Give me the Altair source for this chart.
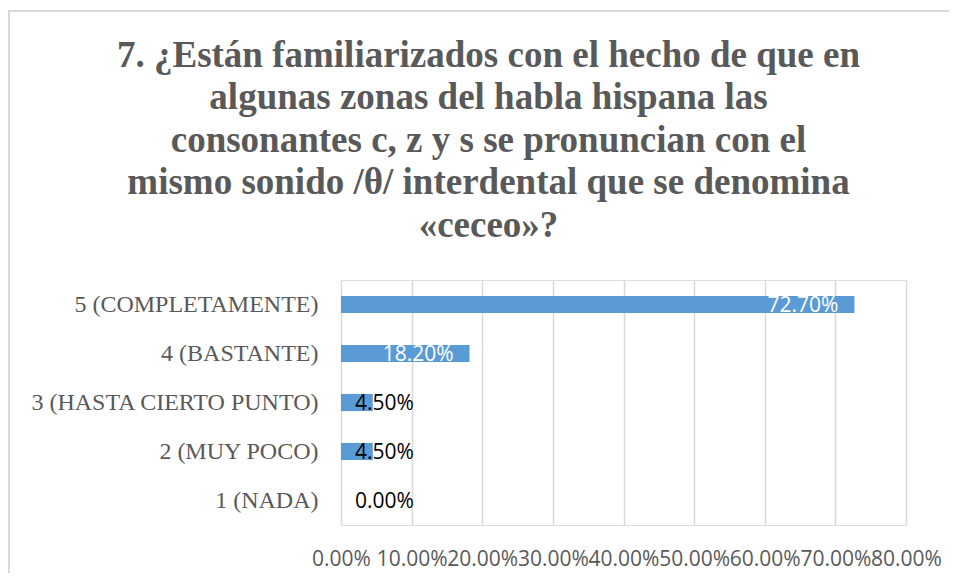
import altair as alt
import pandas as pd

categories = ["5 (COMPLETAMENTE)", "4 (BASTANTE)", "3 (HASTA CIERTO PUNTO)", "2 (MUY POCO)", "1 (NADA)"]
values = [0.727, 0.182, 0.045, 0.045, 0.0]
labels = ["72.70%", "18.20%", "4.50%", "4.50%", "0.00%"]
x_ticks = [0, 0.1, 0.2, 0.3, 0.4, 0.5, 0.6, 0.7, 0.8]

title_lines = [
    "7. ¿Están familiarizados con el hecho de que en",
    "algunas zonas del habla hispana las",
    "consonantes c, z y s se pronuncian con el",
    "mismo sonido /θ/ interdental que se denomina",
    "«ceceo»?",
]

df = pd.DataFrame({"cat": categories, "val": values, "lab": labels})
df["inside"] = df["val"] >= 0.1

W, H = 565, 245
PL, PT, PR, PB = 333, 272, 43, 48

x_enc = alt.X("val:Q", scale=alt.Scale(domain=[0, 0.8], nice=False, zero=True),
              axis=alt.Axis(values=x_ticks, format=".2%", title=None, domain=False, ticks=False,
                            grid=True, gridColor="#d9d9d9", gridWidth=1.5,
                            labelFont="Open Sans", labelFontSize=21, labelColor="#595959",
                            labelPadding=23, labelFlush=False, labelOverlap=False))
y_enc = alt.Y("cat:N", sort=categories,
              scale=alt.Scale(paddingInner=0.65, paddingOuter=0.325),
              axis=alt.Axis(title=None, domain=False, ticks=False, grid=False,
                            labelFont="Liberation Serif", labelFontSize=24, labelColor="#595959",
                            labelPadding=23, labelLimit=400))

border = alt.Chart(df).mark_rect(fill=None, stroke="#d9d9d9", strokeWidth=1.5).encode(
    x=alt.value(-PL + 1), x2=alt.value(W + PR + 20),
    y=alt.value(-PT + 3), y2=alt.value(H + PB + 20),
)

bars = alt.Chart(df).mark_bar(color="#5b9bd5").encode(x=x_enc, y=y_enc)

lab_in = alt.Chart(df).transform_filter("datum.inside").mark_text(
    align="right", baseline="middle", dx=-16, dy=1, font="Open Sans", fontSize=21, color="white"
).encode(x="val:Q", y=alt.Y("cat:N", sort=categories), text="lab:N")

lab_out = alt.Chart(df).transform_filter("!datum.inside").mark_text(
    align="left", baseline="middle", dx=14, dy=1, font="Open Sans", fontSize=21, color="black"
).encode(x=alt.datum(0), y=alt.Y("cat:N", sort=categories), text="lab:N")

chart = alt.layer(border, bars, lab_in, lab_out).properties(
    width=W, height=H,
    title=alt.TitleParams(title_lines, font="Liberation Serif", fontSize=37,
                          fontWeight="bold", color="#595959", anchor="middle", frame="group",
                          dx=-135, offset=-234.5, lineHeight=42.5),
    autosize=alt.AutoSizeParams(type="none"),
    padding={"left": PL, "top": PT, "right": PR, "bottom": PB},
).configure_view(stroke=None).configure_title(
    font="Liberation Serif", fontWeight="bold"
).configure(background="white")

chart.save("out.html", embed_options={"renderer": "svg", "actions": False})
